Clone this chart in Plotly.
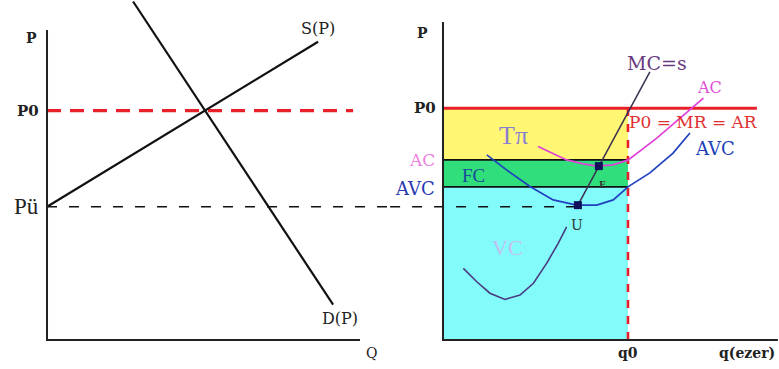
import plotly.graph_objects as go

# ---------------- data (left panel: market) ----------------
P0_left = 7.4
P_u = 4.3
supply_q = [0.0, 8.66]
supply_p = [4.3, 9.62]
demand_q = [2.75, 9.14]
demand_p = [10.92, 1.14]
left_axis_x = [0, 0, 10.0]
left_axis_y = [10.0, 0, 0]

# ---------------- data (right panel: firm) ----------------
P0_right = 7.48
AC_level = 5.81
AVC_level = 4.94
q0 = 5.91
mc_q = [4.31, 6.61]
mc_p = [4.35, 8.65]
vc_q = [0.65, 1.08, 1.50, 1.98, 2.46, 2.89, 3.31, 3.68, 3.95]
vc_p = [2.31, 1.88, 1.51, 1.31, 1.45, 1.83, 2.47, 3.12, 3.65]
avc_q = [1.40, 2.04, 2.78, 3.52, 4.27, 4.91, 5.44, 5.92, 6.61, 7.35, 7.89]
avc_p = [5.97, 5.48, 4.95, 4.52, 4.35, 4.35, 4.52, 4.95, 5.39, 6.03, 6.68]
ac_q = [3.04, 3.52, 3.95, 4.48, 4.91, 5.44, 5.92, 6.83, 7.57, 8.32]
ac_p = [6.24, 6.02, 5.81, 5.68, 5.61, 5.65, 5.81, 6.51, 7.15, 7.80]
point_U = (4.31, 4.35)
point_E = (4.98, 5.61)
p0_line_end = 10.03
right_axis_x = [0, 0, 10.7]
right_axis_y = [10.26, 0, 0]

SERIF = "DejaVu Serif"
TIMES = "Liberation Serif"

fig = go.Figure()

def add(x, y, color, width=1.6, dash=None, xa="x", ya="y", fill=None, fillcolor=None, mode="lines"):
    fig.add_trace(go.Scatter(
        x=x, y=y, mode=mode, xaxis=xa, yaxis=ya,
        line=dict(color=color, width=width, dash=dash),
        fill=fill, fillcolor=fillcolor, hoverinfo="skip", showlegend=False))

# ---------- left panel ----------
add([0, 9.78], [P0_left, P0_left], "#e8202a", width=3.2, dash="14px,9px")
add([0, 10.96], [P_u, P_u], "#111111", width=1.4, dash="10px,12px")
add(supply_q, supply_p, "#111111", width=2.2)
add(demand_q, demand_p, "#111111", width=2.2)
add(left_axis_x, left_axis_y, "#222222", width=2)

# ---------- right panel ----------
xa2, ya2 = "x2", "y2"
# coloured areas
add([0, q0, q0, 0, 0], [AC_level, AC_level, P0_right, P0_right, AC_level], "rgba(0,0,0,0)",
    width=0, xa=xa2, ya=ya2, fill="toself", fillcolor="#fff673")
add([0, q0, q0, 0, 0], [AVC_level, AVC_level, AC_level, AC_level, AVC_level], "rgba(0,0,0,0)",
    width=0, xa=xa2, ya=ya2, fill="toself", fillcolor="#30df7c")
add([0, q0, q0, 0, 0], [0, 0, AVC_level, AVC_level, 0], "rgba(0,0,0,0)",
    width=0, xa=xa2, ya=ya2, fill="toself", fillcolor="#84fbfb")
# horizontal black lines
add([0, q0], [AC_level, AC_level], "#111111", width=1.6, xa=xa2, ya=ya2)
add([0, q0], [AVC_level, AVC_level], "#111111", width=1.6, xa=xa2, ya=ya2)
# dashed Pü continuation
add([-1.69, point_U[0]], [P_u, P_u], "#111111", width=1.4, dash="10px,12px", xa=xa2, ya=ya2)
# red vertical dashed at q0
add([q0, q0], [0, P0_right], "#e8202a", width=2.6, dash="8px,8px", xa=xa2, ya=ya2)
# P0 line
add([0, p0_line_end], [P0_right, P0_right], "#e8202a", width=3, xa=xa2, ya=ya2)
# curves
add(vc_q, vc_p, "#4a3a80", width=1.6, xa=xa2, ya=ya2)
add(mc_q, mc_p, "#3a3050", width=1.5, xa=xa2, ya=ya2)
add(avc_q, avc_p, "#2040c0", width=1.7, xa=xa2, ya=ya2)
add(ac_q, ac_p, "#e040d8", width=1.7, xa=xa2, ya=ya2)
# points U and E
fig.add_trace(go.Scatter(x=[point_U[0], point_E[0]], y=[point_U[1], point_E[1]], mode="markers",
                         xaxis=xa2, yaxis=ya2, marker=dict(symbol="square", size=8, color="#10105a"),
                         hoverinfo="skip", showlegend=False))
add(right_axis_x, right_axis_y, "#222222", width=2, xa=xa2, ya=ya2)

# ---------- annotations ----------
def ann(text, x, y, xa="x", ya="y", size=13, color="#222222", xanchor="center", bold=False, family=SERIF):
    fig.add_annotation(text=("<b>%s</b>" % text) if bold else text, x=x, y=y, xref=xa, yref=ya,
                       showarrow=False, xanchor=xanchor, yanchor="middle",
                       font=dict(family=family, size=size, color=color))

ann("P", -0.48, 9.74, size=14, bold=True)
ann("P0", -0.2, P0_left, size=15, xanchor="right", bold=True)
ann("Pü", -0.2, P_u, size=23, xanchor="right", family=TIMES)
ann("S(P)", 8.66, 10.06, size=16)
ann("D(P)", 9.36, 0.71, size=16)
ann("Q", 10.38, -0.42, size=14)

ann("P", -0.64, 9.9, xa2, ya2, size=14, bold=True)
ann("P0", -0.16, P0_right, xa2, ya2, size=15, xanchor="right", bold=True)
ann("AC", -0.2, AC_level, xa2, ya2, size=17, color="#ee80e0", xanchor="right")
ann("AVC", -0.2, 4.9, xa2, ya2, size=18, color="#2838b0", xanchor="right")
ann("Tπ", 2.25, 6.6, xa2, ya2, size=26, color="#8a80d0", family=TIMES)
ann("FC", 0.96, 5.32, xa2, ya2, size=19, color="#1a4a9a", family=TIMES)
ann("VC", 2.05, 3.0, xa2, ya2, size=22, color="#c4bff0", family=TIMES)
ann("U", 4.27, 3.71, xa2, ya2, size=14, color="#333333")
ann("E", 5.1, 5.0, xa2, ya2, size=9, color="#333333", bold=True)
ann("MC=s", 6.84, 8.94, xa2, ya2, size=19, color="#6a3a80")
ann("AC", 8.5, 8.13, xa2, ya2, size=16, color="#e050d8")
ann("P0 = MR = AR", 8.0, 7.03, xa2, ya2, size=17, color="#e03030")
ann("AVC", 8.69, 6.19, xa2, ya2, size=18, color="#2040b8")
ann("q0", q0, -0.42, xa2, ya2, size=14, bold=True)
ann("q(ezer)", 10.68, -0.42, xa2, ya2, size=14, xanchor="right", bold=True)

axis_common = dict(showgrid=False, zeroline=False, showticklabels=False, ticks="",
                   showline=False, fixedrange=True)
fig.update_layout(
    width=779, height=369,
    margin=dict(l=0, r=0, t=0, b=0),
    paper_bgcolor="white", plot_bgcolor="white",
    showlegend=False,
    xaxis=dict(domain=[0, 390 / 779], range=[-1.502, 10.958], **axis_common),
    yaxis=dict(domain=[0, 1], range=[-0.935, 10.968], anchor="x", **axis_common),
    xaxis2=dict(domain=[390 / 779, 1], range=[-1.693, 10.735], anchor="y2", **axis_common),
    yaxis2=dict(domain=[0, 1], range=[-0.935, 10.968], anchor="x2", **axis_common),
)

fig.write_html("out.html", config={"displayModeBar": False},
               post_script="document.body.style.margin='0px';document.body.style.overflow='hidden';")
